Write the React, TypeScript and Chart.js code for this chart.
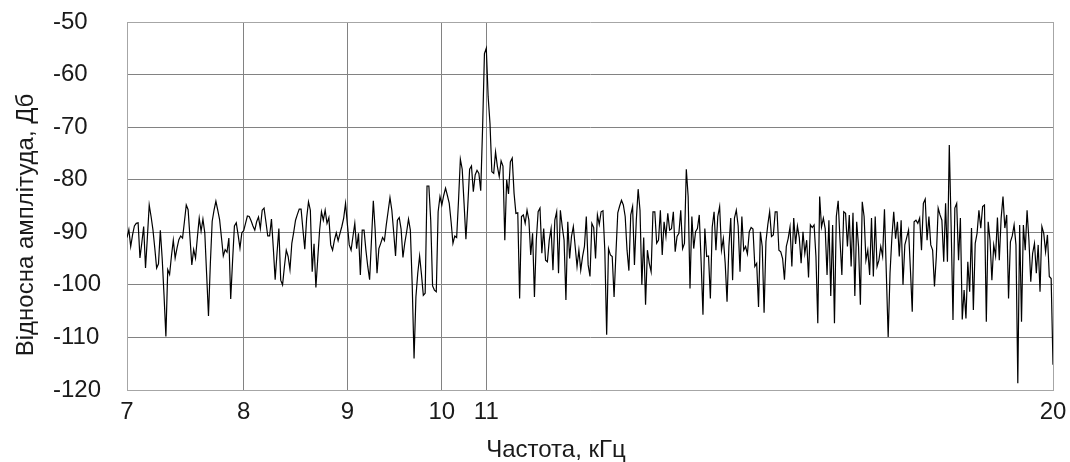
import React, { useEffect, useRef } from "react";
import { Chart, registerables } from "chart.js";

Chart.register(...registerables);

// Relative amplitude (dB), equally spaced samples from 7 kHz to 20 kHz
const amplitudeDb: number[] = [
  // 7 – 8
  -91, -89.5, -92.7, -90.5, -88.8, -88.3, -88.2, -94.9, -92, -88.9,
  -96.8, -91, -84.8, -87, -89.5, -93, -96.8, -96, -89.6, -95,
  -102, -109.8, -97.1, -98, -94.5, -91.5, -94.9, -93, -91.4, -90.7,
  -91.1, -88, -84.8, -85.7, -91, -96.2, -93.3, -94.9, -91, -87.3,
  -89.8, -87.5, -90.1, -98, -105.9, -96, -87.9, -85.8, -84.1, -85.8,
  -87.6, -91, -94.5, -93.3, -93.8, -91.1, -102.7, -95.5, -88.8, -88.2,
  -90.5, -93, -90.1,
  // 8 – 9
  -89.7, -88.3, -86.9, -87, -87.8, -88.8, -89.6, -88, -87.1, -89.3,
  -85.8, -85.4, -88, -90.7, -90.7, -87.5, -93, -99, -94, -89.3,
  -99.1, -100, -96.5, -93.4, -94.6, -97.1, -92.1, -90, -87.7, -86.6,
  -85.6, -85.6, -89.5, -93.2, -87.3, -84.2, -85.8, -97.5, -92.2, -100.5,
  -95, -89.6, -86.1, -87.7, -85.8, -88.3, -87.2, -92.4, -93.4, -91.5,
  -90.1, -91.6, -90.2, -88.9, -87.3, -84.5, -88.5, -92.4, -93.4, -90.8,
  -88.3, -93.1, -90.2,
  // 9 – 11
  -98.1, -89.6, -89.6, -93.4, -96.5, -99, -91.5, -84, -89.6, -97.8,
  -93.1, -92.1, -91, -91.6, -88.6, -86, -83.4, -85.8, -90, -94.5,
  -87.7, -87.2, -89.4, -94.8, -92, -89.9, -87.5, -89.6, -100, -114,
  -102.3, -97.8, -94.5, -98, -102, -101.6, -81.2, -81.2, -87.7, -100.2,
  -101, -101.3, -86.1, -83.2, -84.8, -83, -81.6, -83, -84.5, -88,
  -92.1, -90.7, -91, -84, -76.1, -78, -84.5, -91.3, -85, -78,
  -77.4, -82.3, -79.1, -78.2,
  // 11 peak and after
  -78.8, -82.1, -70.2, -56, -55, -64.2, -69.3, -78.5, -78.8, -74.7,
  -77.5, -79.4, -76.4, -77.4, -91.5, -80, -82.7, -76.6, -75.9, -82.6,
  -86.4, -86.3, -102.6, -87, -86.7, -88.3, -85.8, -87.7, -94.3, -90.2,
  -102.3, -91.5, -86.1, -85.4, -94, -89.3, -95.3, -95.6, -91.5, -89.3,
  -97.2, -87.7, -86.1, -97.8, -85.8, -88.9, -91.5, -102.9, -88, -95,
  -90.8, -88.9, -92.7, -96.5, -93.4, -97.2, -94.6, -92.7, -87, -96.2,
  -98.4,
  // continued
  -88.3, -89.1, -95, -86.7, -88.5, -86.1, -85.9, -93.4, -109.5, -93.1,
  -94.3, -94.6, -102.3, -94, -86.3, -85, -83.9, -84.8, -87, -93.4,
  -97.3, -86.7, -85.1, -96.2, -87.7, -81.8, -85.8, -100, -91, -103.8,
  -93.4, -95.9, -97.5, -86.1, -86.1, -92.1, -91.5, -85.8, -94.3, -88,
  -90.8, -86.4, -89.6, -89.3, -86.1, -93.7, -90.8, -90.2, -85.8, -93.1,
  -92.1, -78, -83.2, -100.7, -87, -93.1, -89.9, -89.3, -86.7, -95.6,
  -105.7,
  -89.3, -94.6, -94.5, -102.6, -89, -86.1, -93.4, -87, -85.1, -93.4,
  -91.2, -95.9, -103.2, -92.7, -87.3, -99.1, -87.3, -85.8, -88.8, -97.5,
  -87, -93.4, -92.7, -94.1, -89.9, -89.1, -89.4, -96.5, -95.9, -104.2,
  -89.9, -92.7, -105.3, -91.8, -88.6, -86.1, -90.8, -90.5, -86.1, -86.1,
  -93.4, -93.7, -95, -99, -92.7, -91.2, -89, -96.5, -87.3, -92.2,
  -88.8, -91, -95.9, -89.9, -94, -91.5, -98.6, -88.6, -89.1, -88.6,
  -94.6, -107.3, -83.2,
  -89, -87.3, -89.3, -98.1, -87.7, -102.1, -88.6, -107.3, -87, -84,
  -91.5, -98.1, -86.1, -86.4, -92.7, -86.7, -96.5, -86.3, -102.1, -88,
  -92.7, -103.8, -84.2, -87, -95.3, -93.4, -98.1, -87.3, -98.4, -87,
  -96.5, -95.3, -92.7, -94.6, -85.6, -97.8, -109.9, -97.8, -91, -86.1,
  -91.2, -88, -94.6, -87.7, -100, -92.4, -91, -89.6, -97, -105.1,
  -88, -87.7, -88.3, -87.3, -93.4, -84.5, -83.7, -91.5, -87, -92.4,
  -93.4, -100.3,
  -94.6, -85.4, -86.7, -87.7, -95.6, -84.5, -95.6, -73.4, -88.9, -106.7,
  -85.4, -84.5, -95.3, -87.3, -106.6, -101, -106.4, -95.6, -101.3, -89.2,
  -104.8, -92.1, -90.2, -85.8, -89.2, -85.1, -84.8, -107, -88, -91.5,
  -99.1, -92.4, -94.5, -87.2, -95.3, -87.3, -83.2, -89.2, -86.7, -102.6,
  -91.8, -90.7, -88.6, -92.4, -118.7, -88.6, -107, -88.6, -93.4, -85.8,
  -91.5, -99.4, -94, -92.1, -97.8, -92.4, -101.3, -88.9, -90.2, -93.7,
  -90.5, -98.4, -98.8, -115.2,
];

// Sample indices where the frequency labels sit
const tickIndex: number[] = [0, 63, 119, 170, 194, 500];
const tickLabels: string[] = ["7", "8", "9", "10", "11", "20"];

const yMin = -120;
const yMax = -50;
const yStep = 10;

const xTitle = "Частота, кГц";
const yTitle = "Відносна амплітуда, Дб";

const FONT = '"Liberation Sans", Arial, sans-serif';
const TEXT = "#1a1a1a";
const GRID = "#828282";
const FRAME = "#a6a6a6";

export default function App() {
  const ref = useRef<HTMLCanvasElement | null>(null);

  useEffect(() => {
    if (!ref.current) return;

    const titlePlugin = {
      id: "axisTitles",
      afterDraw(chart: any) {
        const ctx = chart.ctx as CanvasRenderingContext2D;
        ctx.save();
        ctx.fillStyle = TEXT;
        ctx.font = `24px ${FONT}`;
        ctx.textAlign = "center";
        ctx.textBaseline = "alphabetic";
        ctx.fillText(xTitle, 556, 457);
        ctx.translate(33, 225);
        ctx.rotate(-Math.PI / 2);
        ctx.fillText(yTitle, 0, 0);
        ctx.restore();
      },
    };

    const chart = new Chart(ref.current, {
      type: "line",
      data: {
        datasets: [
          {
            data: amplitudeDb.map((y, i) => ({ x: i, y })),
            borderColor: "#000000",
            borderWidth: 1.2,
            pointRadius: 0,
            tension: 0,
            fill: false,
          },
        ],
      },
      options: {
        animation: false,
        responsive: false,
        maintainAspectRatio: false,
        layout: { padding: { left: 53, top: 22, right: 17, bottom: 0 } },
        plugins: {
          legend: { display: false },
          tooltip: { enabled: false },
        },
        scales: {
          x: {
            type: "linear",
            min: 0,
            max: amplitudeDb.length - 1,
            afterBuildTicks: (s: any) => {
              s.ticks = tickIndex.map((v) => ({ value: v }));
            },
            afterFit: (s: any) => {
              s.height = 72;
              s.paddingLeft = 0;
              s.paddingRight = 0;
            },
            grid: {
              drawTicks: false,
              lineWidth: 1,
              color: (c: any) =>
                c.tick && (c.tick.value === 0 || c.tick.value === amplitudeDb.length - 1)
                  ? FRAME
                  : GRID,
            },
            border: { color: FRAME, width: 1 },
            ticks: {
              autoSkip: false,
              maxRotation: 0,
              minRotation: 0,
              padding: 8,
              color: TEXT,
              font: { size: 24, family: FONT },
              callback: (v: any) => {
                const k = tickIndex.indexOf(Number(v));
                return k >= 0 ? tickLabels[k] : "";
              },
            },
          },
          y: {
            min: yMin,
            max: yMax,
            afterFit: (s: any) => {
              s.width = 74;
              s.paddingTop = 0;
              s.paddingBottom = 0;
            },
            grid: {
              drawTicks: false,
              lineWidth: 1,
              color: (c: any) =>
                c.tick && (c.tick.value === yMax || c.tick.value === yMin) ? FRAME : GRID,
            },
            border: { color: FRAME, width: 1 },
            ticks: {
              stepSize: yStep,
              crossAlign: "far",
              padding: 0,
              color: TEXT,
              font: { size: 24, family: FONT },
            },
          },
        },
      },
      plugins: [titlePlugin],
    } as any);

    return () => chart.destroy();
  }, []);

  return (
    <div style={{ position: "absolute", left: 0, top: 0, width: 1070, height: 462 }}>
      <canvas ref={ref} width={1070} height={462} style={{ display: "block" }} />
    </div>
  );
}
